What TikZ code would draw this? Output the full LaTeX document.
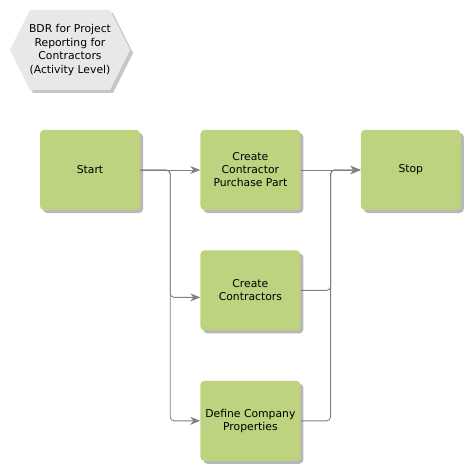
\documentclass[tikz,border=0pt]{standalone}
\usepackage{fontspec}
\setmainfont{DejaVu Sans}
\usetikzlibrary{positioning,shadows,arrows.meta}
\definecolor{actgreen}{RGB}{189,211,127}
\definecolor{hexgrey}{RGB}{232,232,232}
\definecolor{linegrey}{RGB}{128,128,128}
\tikzset{
  activity/.style={draw=none, fill=actgreen, rounded corners=4pt,
    minimum width=100pt, minimum height=80pt, align=center,
    font=\fontsize{10.8}{13}\selectfont,
    drop shadow={shadow xshift=3pt, shadow yshift=-3pt, fill=black!28, opacity=1}},
  flow/.style={draw=linegrey, line width=0.9pt, rounded corners=4pt,
    -{Stealth[length=10pt, width=8pt]}}
}
\begin{document}
\begin{tikzpicture}[x=1pt, y=-1pt]
  \useasboundingbox (0,0) rectangle (470,470);
  % title hexagon
  \fill[black!22] (13,53) -- (33,13) -- (113,13) -- (133,53) -- (113,93) -- (33,93) -- cycle;
  \fill[hexgrey] (10,50) -- (30,10) -- (110,10) -- (130,50) -- (110,90) -- (30,90) -- cycle;
  \node[align=center, font=\fontsize{10.8}{13.5}\selectfont] (title) at (70,50)
    {BDR for Project\\Reporting for\\Contractors\\(Activity Level)};
  % activities
  \node[activity] (start) at (90,170) {Start};
  \node[activity, right=60pt of start] (purchase) {Create\\Contractor\\Purchase Part};
  \node[activity, right=60pt of purchase] (stop) {Stop};
  \node[activity, below=40pt of purchase] (contractors) {Create\\Contractors};
  \node[activity, below=50pt of contractors] (company) {Define Company\\Properties};
  % connectors
  \coordinate (split) at ([xshift=30pt]start.east);
  \coordinate (join) at ([xshift=30pt]purchase.east);
  \draw[flow] (start) -- (purchase);
  \draw[flow] (start.east) -- (split) |- ([yshift=-7pt]contractors.west);
  \draw[flow] (start.east) -- (split) |- (company.west);
  \draw[flow] (purchase) -- (stop);
  \draw[flow] (contractors.east) -| (join) -- (stop.west);
  \draw[flow] (company.east) -| (join) -- (stop.west);
\end{tikzpicture}
\end{document}
